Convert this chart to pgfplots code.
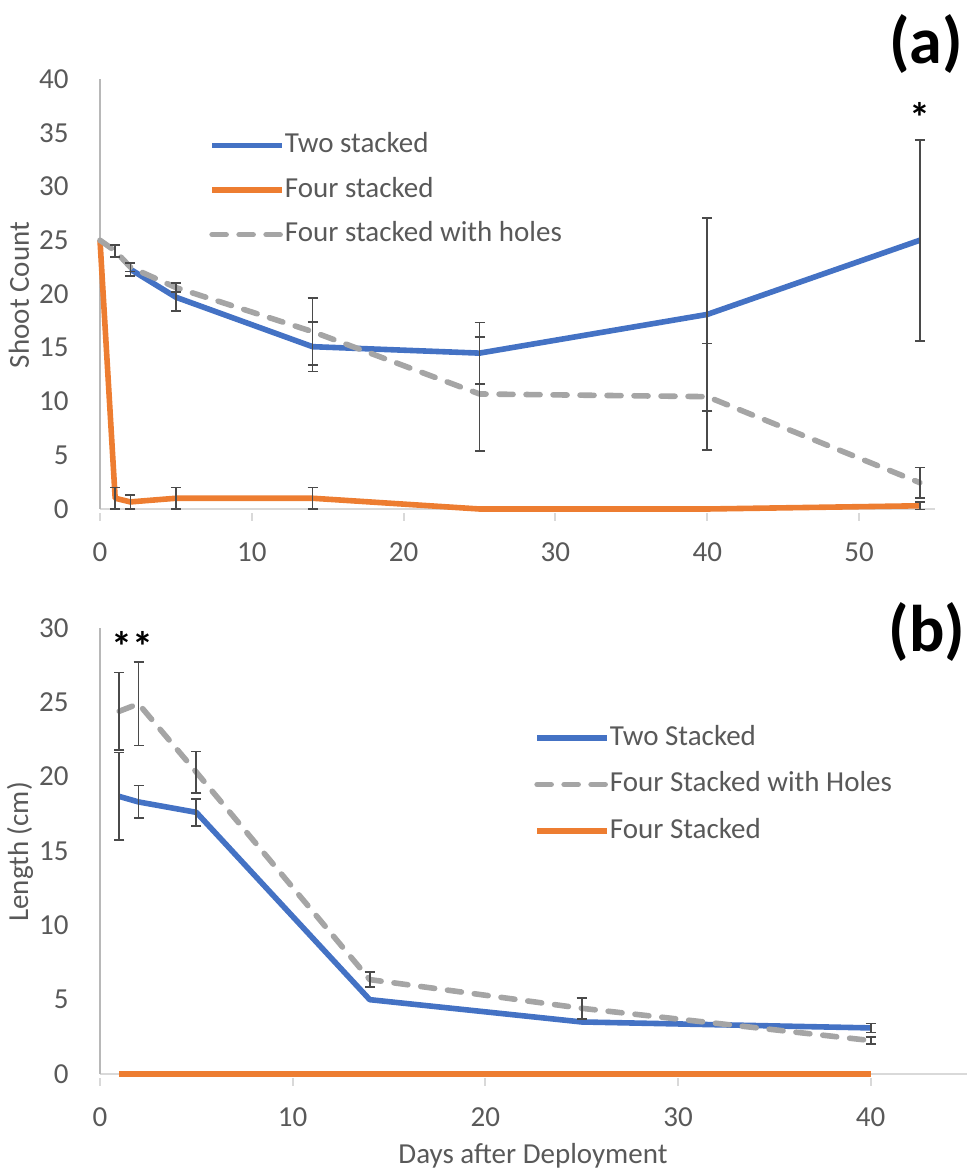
\documentclass[border=0pt]{standalone}
\usepackage{fontspec}
\setmainfont{Carlito}
\usepackage{pgfplots}
\pgfplotsset{compat=1.18}
\definecolor{cblue}{HTML}{4472C4}
\definecolor{corange}{HTML}{ED7D31}
\definecolor{cgray}{HTML}{A5A5A5}
\definecolor{ctext}{HTML}{595959}
\definecolor{cerr}{HTML}{4A4A4A}
\newcommand{\lblfont}{\fontsize{14.5}{17}\selectfont}
\pgfplotsset{
  mystyle/.style={
    scale only axis,
    axis x line=bottom, axis y line=left,
    axis line style={-},
    x axis line style={draw=black!15, line width=1pt},
    y axis line style={draw=black!28, line width=1pt},
    tick label style={font=\lblfont, text=ctext},
    label style={font=\lblfont, text=ctext},
    /pgf/number format/assume math mode=true,
    xtick style={draw=black!15, line width=1pt, yshift=-4pt},
    major tick length=4pt,
    ytick style={draw=none},
    yticklabel style={anchor=east, inner sep=0pt, xshift=-13.5pt},
    xticklabel style={anchor=center, inner sep=0pt, yshift=-19.5pt},
    clip=false,
    legend image code/.code={\draw[##1] (0pt,0pt) -- (35pt,0pt);},
    legend cell align=left,
    legend style={draw=none, fill=none, anchor=north west, font=\lblfont,
      nodes={inner sep=0pt, text height=10.5pt, text depth=3.2pt, text=ctext},
      /tikz/every even column/.style={column sep=3.5pt}},
  },
  ln/.style={line width=2.8pt, line join=round, mark=none},
  dsh/.style={line width=2.8pt, line join=round, line cap=round, dash pattern=on 7pt off 6.5pt, mark=none},
  eb/.style={forget plot, draw=none, mark=none,
    error bars/.cd, y dir=both, y explicit,
    error bar style={draw=cerr, line width=0.85pt, solid},
    error mark options={rotate=90, mark size=2.5pt, draw=cerr, line width=0.85pt, solid}},
}
\begin{document}
\begin{tikzpicture}
\useasboundingbox (0,0) rectangle (484pt,587.5pt);
% ---------------- panel (a)
\begin{axis}[mystyle, at={(50pt,333pt)}, anchor=south west,
  width=417.5pt, height=215pt,
  xmin=0, xmax=55, ymin=0, ymax=40,
  xtick={0,10,...,50}, ytick={0,5,...,40},
  ylabel={Shoot Count},
  ylabel style={at={(axis description cs:-0.097,0.4977)}, anchor=center},
  legend style={at={(axis description cs:0.1233,0.887)}, row sep=8.55pt},
]
\addplot[cblue, ln] coordinates {(2,22.3) (5,19.7) (14,15.1) (25,14.5) (40,18.1) (54,25.0)};
\addlegendentry{Two stacked}
\addplot[eb] coordinates {(2,22.3) +- (0,0.6) (5,19.7) +- (0,1.3) (14,15.1) +- (0,2.3) (25,14.5) +- (0,2.85) (40,18.1) +- (0,9.0) (54,25.0) +- (0,9.35)};
\addplot[corange, ln] coordinates {(0,25) (1,1.0) (2,0.66) (5,1.0) (14,1.0) (25,0) (40,0) (54,0.3)};
\addlegendentry{Four stacked}
\addplot[eb] coordinates {(1,1.0) +- (0,1.0) (2,0.66) +- (0,0.66) (5,1.0) +- (0,1.0) (14,1.0) +- (0,1.0) (54,0.3) +- (0,0.35)};
\addplot[cgray, dsh] coordinates {(0,25) (1,24.0) (2,22.5) (5,20.6) (14,16.5) (25,10.7) (40,10.45) (54,2.45)};
\addlegendentry{Four stacked with holes}
\addplot[eb] coordinates {(1,24.0) +- (0,0.55) (2,22.5) +- (0,0.4) (5,20.6) +- (0,0.4) (14,16.5) +- (0,3.1) (25,10.7) +- (0,5.3) (40,10.45) +- (0,4.95) (54,2.45) +- (0,1.4)};
\node[font=\fontsize{21}{24}\selectfont\bfseries, anchor=base] at (axis cs:54,35.07) {*};
\end{axis}
% ---------------- panel (b)
\begin{axis}[mystyle, at={(50pt,50.5pt)}, anchor=south west,
  width=433.5pt, height=223pt,
  xmin=0, xmax=45, ymin=0, ymax=30,
  xtick={0,10,...,40}, ytick={0,5,...,30},
  ylabel={Length (cm)},
  ylabel style={at={(axis description cs:-0.0923,0.498)}, anchor=center},
  xlabel={Days after Deployment},
  xlabel style={at={(axis description cs:0.4994,-0.1996)}, anchor=base},
  legend style={at={(axis description cs:0.4936,0.794)}, row sep=9.55pt},
]
\addplot[cblue, ln] coordinates {(1,18.67) (2,18.3) (5,17.6) (14,5.0) (25,3.5) (40,3.1)};
\addlegendentry{Two Stacked}
\addplot[eb] coordinates {(1,18.67) +- (0,2.95) (2,18.3) +- (0,1.1) (5,17.6) +- (0,0.9) (40,3.1) +- (0,0.3)};
\addplot[cgray, dsh] coordinates {(1,24.4) (2,24.9) (5,20.3) (14,6.35) (25,4.42) (40,2.25)};
\addlegendentry{Four Stacked with Holes}
\addplot[eb] coordinates {(1,24.4) +- (0,2.6) (2,24.9) +- (0,2.8) (5,20.3) +- (0,1.4) (14,6.35) +- (0,0.5) (25,4.42) +- (0,0.7) (40,2.25) +- (0,0.25)};
\addplot[corange, ln] coordinates {(1,0) (2,0) (5,0) (14,0) (25,0) (40,0)};
\addlegendentry{Four Stacked}
\node[font=\fontsize{21}{24}\selectfont\bfseries, anchor=base] at (axis cs:1.7,27.76) {**};
\end{axis}
\node[font=\fontsize{33}{36}\selectfont\bfseries] at (463pt,565.5pt) {(a)};
\node[font=\fontsize{33}{36}\selectfont\bfseries] at (463.5pt,271.5pt) {(b)};
\end{tikzpicture}
\end{document}
